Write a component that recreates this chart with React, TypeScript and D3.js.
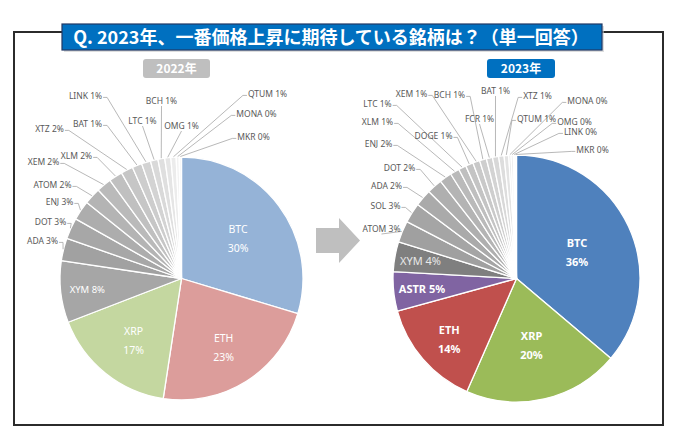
import React, { useEffect, useRef } from 'react';
import * as d3 from 'd3';

// survey shares (%), clockwise from 12 o'clock
const coins2022 = ['BTC', 'ETH', 'XRP', 'XYM', 'ADA', 'DOT', 'ENJ', 'ATOM', 'XEM', 'XLM', 'XTZ', 'BAT', 'LINK', 'LTC', 'BCH', 'OMG', 'QTUM', 'MONA', 'MKR'];
const shares2022 = [29.6, 22.7, 16.7, 8.2, 3.0, 2.8, 2.6, 2.2, 2.0, 1.8, 1.6, 1.3, 1.2, 1.0, 0.9, 0.8, 0.7, 0.4, 0.3];

const coins2023 = ['BTC', 'XRP', 'ETH', 'ASTR', 'XYM', 'ATOM', 'SOL', 'ADA', 'DOT', 'ENJ', 'XLM', 'LTC', 'DOGE', 'XEM', 'BCH', 'FCR', 'BAT', 'XTZ', 'QTUM', 'MONA', 'OMG', 'LINK', 'MKR'];
const shares2023 = [36.0, 20.3, 14.1, 5.1, 3.9, 2.8, 2.6, 2.2, 2.0, 1.6, 1.2, 1.0, 1.0, 0.9, 0.9, 0.8, 0.8, 0.7, 0.6, 0.3, 0.3, 0.2, 0.2];

const title = 'Q. 2023年、一番価格上昇に期待している銘柄は？（単一回答）';
const yearLabels = ['2022年', '2023年'];

// colours
const colors2022: Record<string, string> = { BTC: '#95b3d7', ETH: '#dc9d9b', XRP: '#c4d7a0', XYM: '#a6a6a6' };
const colors2023: Record<string, string> = { BTC: '#4f81bd', XRP: '#9bbb59', ETH: '#c0504d', ASTR: '#8064a2', XYM: '#7f7f7f' };

// inside labels: radius fraction
const inner2022: Record<string, number> = { BTC: 0.58, ETH: 0.65, XRP: 0.63, XYM: 0.78 };
const inner2023: Record<string, number> = { BTC: 0.54, XRP: 0.54, ETH: 0.72, ASTR: 0.77, XYM: 0.79 };

// outside label placement (offset of text centre from the pie centre)
const place2022: Record<string, [number, number]> = {
  ADA: [-139, -38], DOT: [-131, -57], ENJ: [-122, -77], ATOM: [-129, -94], XEM: [-138, -117],
  XLM: [-105, -123], XTZ: [-132, -150], BAT: [-94, -155], LINK: [-96, -183], LTC: [-39, -158],
  BCH: [-20, -178], OMG: [0, -153], QTUM: [86, -185], MONA: [75, -165], MKR: [72, -142],
};
const place2023: Record<string, [number, number]> = {
  ATOM: [-135, -50], SOL: [-131, -73], ADA: [-130, -93], DOT: [-117, -111], ENJ: [-138, -135],
  XLM: [-139, -157], LTC: [-139, -175], DOGE: [-83, -143], XEM: [-105, -185], BCH: [-67, -184],
  FCR: [-37, -160], BAT: [-21, -188], XTZ: [21, -183], QTUM: [20, -160], MONA: [71, -178],
  OMG: [58, -157], LINK: [64, -147], MKR: [76, -129],
};

const FONT = '"Noto Sans", "Noto Sans CJK JP", sans-serif';

function drawPie(
  g: d3.Selection<SVGGElement, unknown, null, undefined>,
  names: string[], values: number[], colors: Record<string, string>,
  grayFrom: string, grayTo: string,
  inner: Record<string, number>, place: Record<string, [number, number]>,
  R: number, boldInner: boolean,
) {
  const data = names.map((n, i) => ({ name: n, value: values[i] }));
  const pie = d3.pie<{ name: string; value: number }>().sort(null).value(d => d.value);
  const arcs = pie(data);
  const arc = d3.arc<d3.PieArcDatum<{ name: string; value: number }>>().innerRadius(0).outerRadius(R);

  const grays = names.filter(n => !colors[n]);
  const grayScale = d3.scaleLinear<string>().domain([0, Math.max(1, grays.length - 1)]).range([grayFrom, grayTo]).interpolate(d3.interpolateRgb);
  const fill = (n: string) => colors[n] || grayScale(grays.indexOf(n));

  g.selectAll('path.slice').data(arcs).enter().append('path')
    .attr('class', 'slice')
    .attr('d', arc)
    .attr('fill', d => fill(d.data.name))
    .attr('stroke', '#fff')
    .attr('stroke-width', 1.3)
    .attr('stroke-linejoin', 'round');

  // inside labels
  arcs.filter(d => inner[d.data.name] !== undefined).forEach(d => {
    const a = (d.startAngle + d.endAngle) / 2;
    const r = R * inner[d.data.name];
    const x = Math.sin(a) * r, y = -Math.cos(a) * r;
    const pct = `${Math.round(d.data.value)}%`;
    const big = d.data.value > 10;
    const t = g.append('text')
      .attr('text-anchor', 'middle')
      .attr('font-family', FONT)
      .attr('font-size', boldInner ? 11 : (big ? 10.5 : 9.5))
      .attr('font-weight', boldInner && d.data.name !== 'XYM' ? 'bold' : 'normal')
      .attr('fill', d.data.name === 'XYM' && boldInner ? '#e8e8e8' : '#fff');
    if (big) {
      t.append('tspan').attr('x', x).attr('y', y - 3).text(d.data.name);
      t.append('tspan').attr('x', x).attr('y', y + 16).text(pct);
    } else {
      t.attr('x', x).attr('y', y + 4).text(`${d.data.name}  ${pct}`);
    }
  });

  // outside labels with leader lines
  arcs.filter(d => place[d.data.name]).forEach(d => {
    const [lx, ly] = place[d.data.name];
    const a = (d.startAngle + d.endAngle) / 2;
    const px = Math.sin(a) * (R + 0.5), py = -Math.cos(a) * (R + 0.5);
    const t = g.append('text')
      .attr('x', lx).attr('y', ly + 3)
      .attr('text-anchor', 'middle')
      .attr('font-family', FONT)
      .attr('font-size', 8.5)
      .attr('fill', '#595959')
      .text(`${d.data.name} ${Math.round(d.data.value)}%`);
    const bb = (t.node() as SVGTextElement).getBBox();
    const left = bb.x, right = bb.x + bb.width;
    const my = bb.y + bb.height * 0.72;
    let pts: [number, number][];
    if (px > right + 3) pts = [[right + 1, my], [right + 5, my], [px, py]];
    else if (px < left - 3) pts = [[left - 1, my], [left - 5, my], [px, py]];
    else pts = [[lx, bb.y + bb.height + 0.5], [px, py]];
    g.insert('path', 'text')
      .attr('d', d3.line()(pts))
      .attr('fill', 'none')
      .attr('stroke', '#a6a6a6')
      .attr('stroke-width', 0.8);
  });
}

export default function App() {
  const ref = useRef<SVGSVGElement>(null);

  useEffect(() => {
    if (!ref.current) return;
    const svg = d3.select(ref.current);
    svg.selectAll('*').remove();

    svg.append('rect').attr('width', 676).attr('height', 435).attr('fill', '#fff');

    // frame
    svg.append('rect')
      .attr('x', 14).attr('y', 32).attr('width', 649).attr('height', 393)
      .attr('fill', 'none').attr('stroke', '#2b2b2b').attr('stroke-width', 2);

    // title banner
    svg.append('rect')
      .attr('x', 64).attr('y', 26).attr('width', 540).attr('height', 26)
      .attr('fill', '#c8c8c8').attr('opacity', 0.6);
    svg.append('rect')
      .attr('x', 62).attr('y', 24).attr('width', 540).attr('height', 26)
      .attr('fill', '#0070c0').attr('stroke', '#203864').attr('stroke-width', 1.2);
    svg.append('text')
      .attr('x', 331).attr('y', 43.5)
      .attr('text-anchor', 'middle')
      .attr('font-family', '"Noto Sans CJK JP", sans-serif')
      .attr('font-weight', 'bold')
      .attr('font-size', 18)
      .attr('fill', '#fff')
      .text(title);

    // year tags
    const tags = [
      { x: 143, w: 67, fill: '#bfbfbf' },
      { x: 487, w: 68, fill: '#0070c0' },
    ];
    tags.forEach((t, i) => {
      svg.append('rect')
        .attr('x', t.x).attr('y', 59).attr('width', t.w).attr('height', 19).attr('rx', 3)
        .attr('fill', t.fill);
      svg.append('text')
        .attr('x', t.x + t.w / 2).attr('y', 73)
        .attr('text-anchor', 'middle')
        .attr('font-family', '"Noto Sans CJK JP", sans-serif')
        .attr('font-weight', 'bold')
        .attr('font-size', 12)
        .attr('fill', '#fff')
        .text(yearLabels[i]);
    });

    // arrow between the pies
    svg.append('path')
      .attr('d', 'M316,228 L339,228 L339,218 L360,240.5 L339,263 L339,253 L316,253 Z')
      .attr('fill', '#bfbfbf');

    const g1 = svg.append('g').attr('transform', 'translate(181.5,278.5)');
    drawPie(g1, coins2022, shares2022, colors2022, '#a1a1a1', '#f8f8f8', inner2022, place2022, 121.5, false);

    const g2 = svg.append('g').attr('transform', 'translate(516.5,278.5)');
    drawPie(g2, coins2023, shares2023, colors2023, '#a0a0a0', '#f7f7f7', inner2023, place2023, 123.5, true);
  }, []);

  return (
    <div style={{ position: 'absolute', left: 0, top: 0 }}>
      <svg ref={ref} width={676} height={435} style={{ display: 'block' }} />
    </div>
  );
}
